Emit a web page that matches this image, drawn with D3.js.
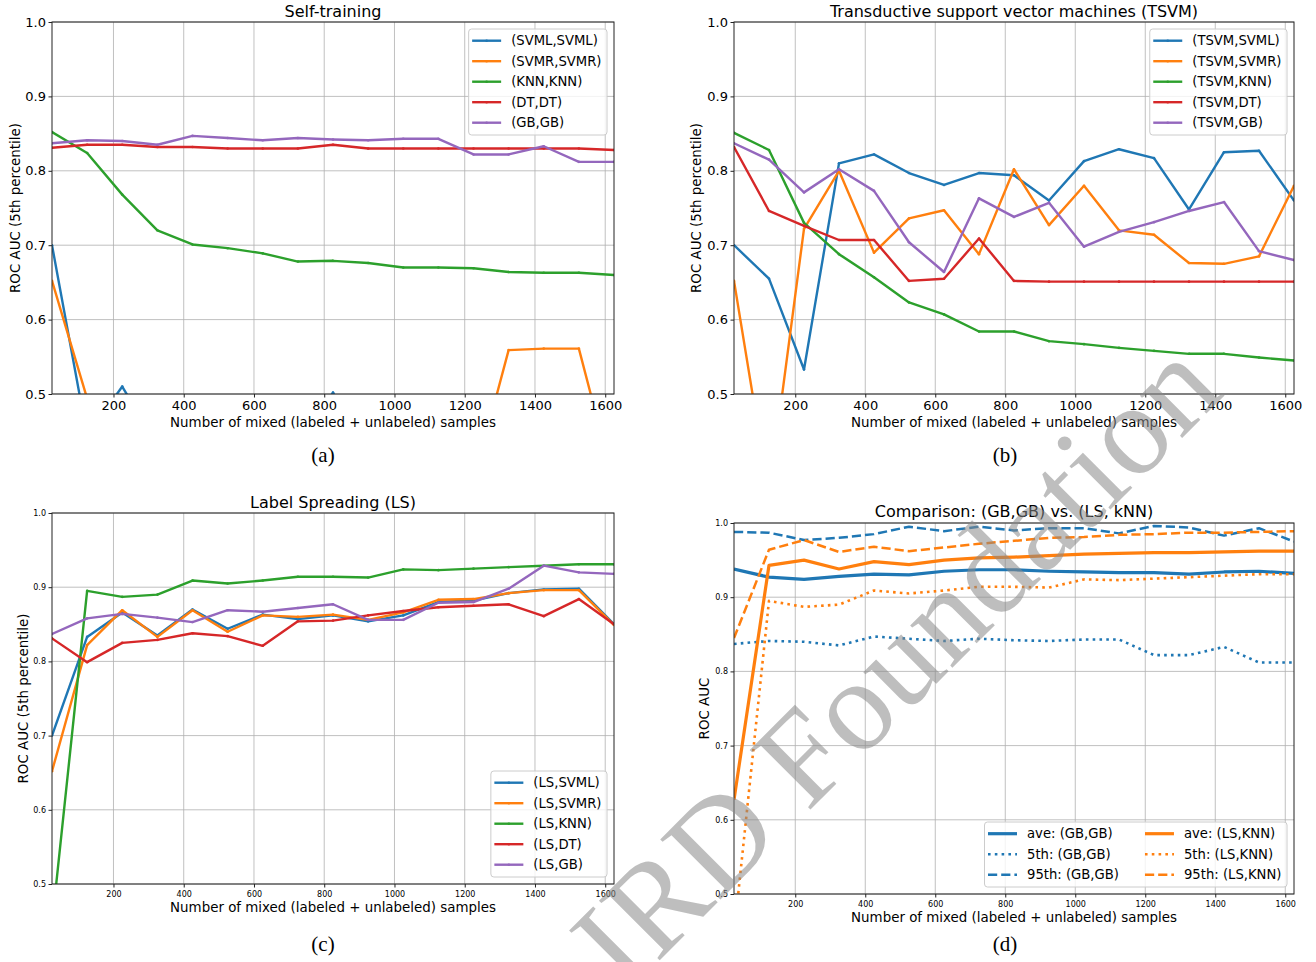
<!DOCTYPE html>
<html>
<head>
<meta charset="utf-8">
<style>
  body { margin: 0; background: #fff; }
  svg text { font-family: "DejaVu Sans", sans-serif; }
</style>
</head>
<body>
<svg id="fig" width="1316" height="962"></svg>
<script src="https://cdn.jsdelivr.net/npm/d3@7"></script>
<script>
// number of mixed samples at each evaluation point
const xs = [25, 125, 225, 325, 425, 525, 625, 725, 825, 925, 1025, 1125, 1225, 1325, 1425, 1525, 1625];
const xTicks = [200, 400, 600, 800, 1000, 1200, 1400, 1600];
const yTicks = [0.5, 0.6, 0.7, 0.8, 0.9, 1.0];
const colors = ["#1f77b4", "#ff7f0e", "#2ca02c", "#d62728", "#9467bd"];

// (a) self-training, 5th percentile
const selfNames = ["(SVML,SVML)", "(SVMR,SVMR)", "(KNN,KNN)", "(DT,DT)", "(GB,GB)"];
const selfSVML = [0.700, 0.444, 0.510, 0.430, 0.425, 0.420, 0.420, 0.425, 0.502, 0.420, 0.420, 0.420, 0.420, 0.420, 0.420, 0.420, 0.420];
const selfSVMR = [0.652, 0.494, 0.400, 0.400, 0.390, 0.390, 0.390, 0.390, 0.390, 0.390, 0.390, 0.390, 0.382, 0.559, 0.561, 0.561, 0.380];
const selfKNN  = [0.852, 0.824, 0.768, 0.720, 0.701, 0.696, 0.689, 0.678, 0.679, 0.676, 0.670, 0.670, 0.669, 0.664, 0.663, 0.663, 0.660];
const selfDT   = [0.831, 0.835, 0.835, 0.832, 0.832, 0.830, 0.830, 0.830, 0.835, 0.830, 0.830, 0.830, 0.830, 0.830, 0.830, 0.830, 0.828];
const selfGB   = [0.837, 0.841, 0.840, 0.835, 0.847, 0.844, 0.841, 0.844, 0.842, 0.841, 0.843, 0.843, 0.822, 0.822, 0.833, 0.812, 0.812];

// (b) TSVM, 5th percentile
const tsvmNames = ["(TSVM,SVML)", "(TSVM,SVMR)", "(TSVM,KNN)", "(TSVM,DT)", "(TSVM,GB)"];
const tsvmSVML = [0.700, 0.655, 0.533, 0.810, 0.822, 0.797, 0.781, 0.797, 0.794, 0.760, 0.813, 0.829, 0.817, 0.748, 0.825, 0.827, 0.760];
const tsvmSVMR = [0.652, 0.365, 0.722, 0.800, 0.690, 0.736, 0.747, 0.688, 0.802, 0.727, 0.780, 0.720, 0.714, 0.676, 0.675, 0.685, 0.780];
const tsvmKNN  = [0.851, 0.828, 0.730, 0.688, 0.657, 0.623, 0.607, 0.584, 0.584, 0.571, 0.567, 0.562, 0.558, 0.554, 0.554, 0.549, 0.545];
const tsvmDT   = [0.832, 0.746, 0.726, 0.707, 0.707, 0.652, 0.655, 0.709, 0.652, 0.651, 0.651, 0.651, 0.651, 0.651, 0.651, 0.651, 0.651];
const tsvmGB   = [0.837, 0.815, 0.771, 0.802, 0.773, 0.704, 0.664, 0.763, 0.738, 0.757, 0.698, 0.718, 0.731, 0.746, 0.758, 0.692, 0.680];

// (c) label spreading, 5th percentile
const lsNames = ["(LS,SVML)", "(LS,SVMR)", "(LS,KNN)", "(LS,DT)", "(LS,GB)"];
const lsSVML = [0.700, 0.833, 0.866, 0.835, 0.870, 0.844, 0.863, 0.857, 0.862, 0.854, 0.862, 0.880, 0.882, 0.892, 0.897, 0.898, 0.850];
const lsSVMR = [0.652, 0.822, 0.869, 0.833, 0.869, 0.840, 0.862, 0.860, 0.863, 0.856, 0.866, 0.883, 0.884, 0.892, 0.896, 0.896, 0.849];
const lsKNN  = [0.446, 0.895, 0.887, 0.890, 0.909, 0.905, 0.909, 0.914, 0.914, 0.913, 0.924, 0.923, 0.925, 0.927, 0.929, 0.931, 0.931];
const lsDT   = [0.831, 0.799, 0.825, 0.829, 0.838, 0.834, 0.821, 0.854, 0.855, 0.862, 0.868, 0.873, 0.875, 0.877, 0.861, 0.884, 0.850];
const lsGB   = [0.837, 0.858, 0.864, 0.859, 0.853, 0.869, 0.867, 0.872, 0.877, 0.856, 0.856, 0.879, 0.880, 0.898, 0.929, 0.920, 0.918];

// (d) comparison
const cmpNames = ["ave: (GB,GB)", "5th: (GB,GB)", "95th: (GB,GB)", "ave: (LS,KNN)", "5th: (LS,KNN)", "95th: (LS,KNN)"];
const gbAve   = [0.938, 0.927, 0.924, 0.928, 0.931, 0.930, 0.935, 0.937, 0.937, 0.935, 0.934, 0.933, 0.933, 0.931, 0.934, 0.935, 0.932];
const gb95th  = [0.988, 0.987, 0.977, 0.980, 0.985, 0.995, 0.989, 0.995, 0.990, 0.993, 0.993, 0.986, 0.996, 0.994, 0.983, 0.993, 0.975];
const knnAve  = [0.627, 0.943, 0.950, 0.938, 0.948, 0.944, 0.950, 0.953, 0.954, 0.956, 0.958, 0.959, 0.960, 0.960, 0.961, 0.962, 0.962];
const knn95th = [0.845, 0.964, 0.977, 0.961, 0.968, 0.962, 0.967, 0.972, 0.976, 0.980, 0.981, 0.984, 0.985, 0.987, 0.987, 0.988, 0.989];

const svg = d3.select("#fig");

function basicSeries(names, vals) {
  return names.map((n, i) => ({ name: n, values: vals[i], color: colors[i], width: 2.4, dash: null, markers: true }));
}

const solid = null, dotted = "2.6,4.2", dashed = "9.2,4";
const cmpSeries = [
  { name: cmpNames[0], values: gbAve,   color: colors[0], width: 3.2, dash: solid },
  { name: cmpNames[1], values: selfGB,  color: colors[0], width: 2.6, dash: dotted },
  { name: cmpNames[2], values: gb95th,  color: colors[0], width: 2.5, dash: dashed },
  { name: cmpNames[3], values: knnAve,  color: colors[1], width: 3.2, dash: solid },
  { name: cmpNames[4], values: lsKNN,   color: colors[1], width: 2.6, dash: dotted },
  { name: cmpNames[5], values: knn95th, color: colors[1], width: 2.5, dash: dashed }
];

const panels = [
  { id: "a", left: 52, right: 614, top: 22, bottom: 394, tickFont: 13,
    title: "Self-training", titleY: 17, ylabel: "ROC AUC (5th percentile)", ylabelX: 15,
    caption: "(a)", capX: 323, capY: 462, xlabelY: 427,
    series: basicSeries(selfNames, [selfSVML, selfSVMR, selfKNN, selfDT, selfGB]), legend: "top", ncol: 1 },
  { id: "b", left: 734, right: 1294, top: 22, bottom: 394, tickFont: 13,
    title: "Transductive support vector machines (TSVM)", titleY: 17, ylabel: "ROC AUC (5th percentile)", ylabelX: 696,
    caption: "(b)", capX: 1005, capY: 462, xlabelY: 427,
    series: basicSeries(tsvmNames, [tsvmSVML, tsvmSVMR, tsvmKNN, tsvmDT, tsvmGB]), legend: "top", ncol: 1 },
  { id: "c", left: 52, right: 614, top: 513, bottom: 884, tickFont: 8,
    title: "Label Spreading (LS)", titleY: 508, ylabel: "ROC AUC (5th percentile)", ylabelX: 23,
    caption: "(c)", capX: 323, capY: 951, xlabelY: 912,
    series: basicSeries(lsNames, [lsSVML, lsSVMR, lsKNN, lsDT, lsGB]), legend: "bottom", ncol: 1 },
  { id: "d", left: 734, right: 1294, top: 523, bottom: 894, tickFont: 8,
    title: "Comparison: (GB,GB) vs. (LS, kNN)", titleY: 517, ylabel: "ROC AUC", ylabelX: 704,
    caption: "(d)", capX: 1005, capY: 951, xlabelY: 922,
    series: cmpSeries, legend: "bottom", ncol: 2 }
];

function drawLegend(g, p) {
  const items = p.series;
  const ncol = p.ncol;
  const rows = Math.ceil(items.length / ncol);
  const rowH = 20.5, lineStart = 3.5, lineLen = 29, textOff = 42.5, colGap = 26, padR = 5.5;
  const leg = g.append("g");
  const box = leg.append("rect");
  const texts = items.map(s => leg.append("text").attr("font-size", 13.2).attr("fill", "#000").text(s.name));
  const colW = [];
  for (let c = 0; c < ncol; c++) {
    let w = 0;
    items.forEach((s, i) => { if (Math.floor(i / rows) === c) w = Math.max(w, texts[i].node().getComputedTextLength()); });
    colW.push(w);
  }
  let width = 0;
  colW.forEach((w, c) => { width += textOff + w + (c < ncol - 1 ? colGap - lineStart : 0); });
  width += padR;
  const height = 11.7 + (rows - 1) * rowH + 12.3;
  const bx = p.right - 7 - width;
  const by = p.legend === "top" ? p.top + 7 : p.bottom - 7 - height;
  box.attr("x", bx).attr("y", by).attr("width", width).attr("height", height)
    .attr("rx", 3).attr("fill", "#fff").attr("fill-opacity", 0.8)
    .attr("stroke", "#cccccc").attr("stroke-width", 1);
  items.forEach((s, i) => {
    const c = Math.floor(i / rows), r = i % rows;
    let cx = bx;
    for (let k = 0; k < c; k++) cx += textOff + colW[k] + colGap - lineStart;
    const cy = by + 11.7 + r * rowH;
    leg.append("line").attr("x1", cx + lineStart).attr("x2", cx + lineStart + lineLen)
      .attr("y1", cy).attr("y2", cy).attr("stroke", s.color).attr("stroke-width", s.width)
      .attr("stroke-dasharray", s.dash);
    if (s.markers) leg.append("circle").attr("cx", cx + lineStart + lineLen / 2).attr("cy", cy).attr("r", 1.3).attr("fill", s.color);
    texts[i].attr("x", cx + textOff).attr("y", cy).attr("dy", "0.36em");
  });
}

function drawPanel(p) {
  const g = svg.append("g");
  const x = d3.scaleLinear().domain([25, 1625]).range([p.left, p.right]);
  const y = d3.scaleLinear().domain([0.5, 1.0]).range([p.bottom, p.top]);

  // grid
  g.append("g").selectAll("line").data(xTicks).join("line")
    .attr("x1", d => x(d)).attr("x2", d => x(d)).attr("y1", p.top).attr("y2", p.bottom)
    .attr("stroke", "#b0b0b0").attr("stroke-width", 0.8);
  g.append("g").selectAll("line").data(yTicks).join("line")
    .attr("x1", p.left).attr("x2", p.right).attr("y1", d => y(d)).attr("y2", d => y(d))
    .attr("stroke", "#b0b0b0").attr("stroke-width", 0.8);

  // lines, clipped to the axes box
  const clipId = "clip-" + p.id;
  svg.append("clipPath").attr("id", clipId).append("rect")
    .attr("x", p.left).attr("y", p.top).attr("width", p.right - p.left).attr("height", p.bottom - p.top);
  const line = d3.line().x((d, i) => x(xs[i])).y(d => y(d));
  const plot = g.append("g").attr("clip-path", `url(#${clipId})`);
  p.series.forEach(s => {
    plot.append("path").datum(s.values).attr("d", line)
      .attr("fill", "none").attr("stroke", s.color).attr("stroke-width", s.width)
      .attr("stroke-dasharray", s.dash).attr("stroke-linejoin", "round");
    if (s.markers) {
      plot.append("g").selectAll("circle").data(s.values).join("circle")
        .attr("cx", (d, i) => x(xs[i])).attr("cy", d => y(d)).attr("r", 1.3).attr("fill", s.color);
    }
  });

  // frame
  g.append("rect").attr("x", p.left).attr("y", p.top)
    .attr("width", p.right - p.left).attr("height", p.bottom - p.top)
    .attr("fill", "none").attr("stroke", "#222").attr("stroke-width", 1);

  // axes
  const xa = g.append("g").attr("transform", `translate(0,${p.bottom})`)
    .call(d3.axisBottom(x).tickValues(xTicks).tickSize(3.5).tickPadding(3.5).tickFormat(d3.format("d")));
  const ya = g.append("g").attr("transform", `translate(${p.left},0)`)
    .call(d3.axisLeft(y).tickValues(yTicks).tickSize(3.5).tickPadding(2.5).tickFormat(d3.format(".1f")));
  [xa, ya].forEach(a => {
    a.select(".domain").remove();
    a.attr("font-family", null).attr("font-size", p.tickFont);
    a.selectAll("line").attr("stroke", "#222");
    a.selectAll("text").attr("fill", "#000");
  });

  // titles and labels
  g.append("text").attr("x", (p.left + p.right) / 2).attr("y", p.titleY)
    .attr("text-anchor", "middle").attr("font-size", 16).attr("fill", "#000").text(p.title);
  g.append("text").attr("x", (p.left + p.right) / 2).attr("y", p.xlabelY)
    .attr("text-anchor", "middle").attr("font-size", 13.4).attr("fill", "#000")
    .text("Number of mixed (labeled + unlabeled) samples");
  g.append("text").attr("transform", `translate(${p.ylabelX},${(p.top + p.bottom) / 2}) rotate(-90)`)
    .attr("text-anchor", "middle").attr("dy", "0.36em").attr("font-size", 13.4).attr("fill", "#000").text(p.ylabel);
  g.append("text").attr("x", p.capX).attr("y", p.capY).attr("text-anchor", "middle")
    .style("font-family", "'Liberation Serif', 'Times New Roman', serif").attr("font-size", 21).attr("fill", "#000")
    .text(p.caption);

  drawLegend(g, p);
}

panels.forEach(drawPanel);

// watermark across the figure
svg.append("text")
  .attr("transform", "translate(1226,394) rotate(-45)")
  .attr("text-anchor", "end")
  .style("font-family", "'Liberation Serif', 'Times New Roman', serif")
  .attr("font-size", 130)
  .attr("fill", "#888").attr("fill-opacity", 0.55)
  .text("IRD Foundation");
</script>
</body>
</html>
